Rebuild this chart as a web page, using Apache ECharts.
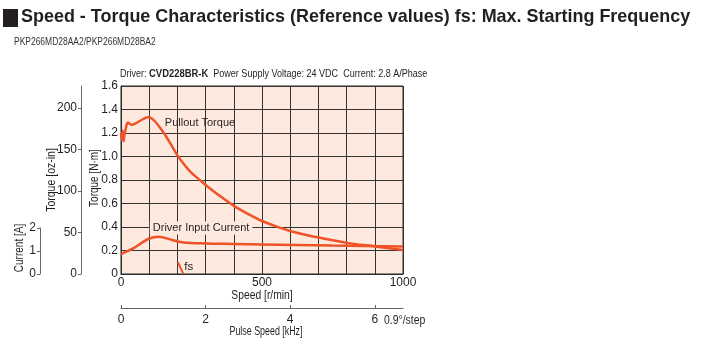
<!DOCTYPE html>
<html>
<head>
<meta charset="utf-8">
<script src="https://cdn.jsdelivr.net/npm/echarts@6/dist/echarts.min.js"></script>
<style>
  html, body { margin: 0; padding: 0; background: #fff; }
  #main { width: 713px; height: 352px; }
</style>
</head>
<body>
<div id="main"></div>
<script>
// speed [r/min] / pullout torque [N·m]
var torqueSpeed = [0, 3, 6, 9, 12, 20, 25, 30, 38, 50, 65, 80, 95, 105, 120, 140, 160, 180, 200, 220, 250, 280, 300, 350, 400, 450, 500, 550, 600, 650, 700, 800, 900, 1000];
var torqueNm = [1.2, 1.14, 1.22, 1.13, 1.18, 1.27, 1.29, 1.28, 1.27, 1.28, 1.30, 1.32, 1.335, 1.33, 1.30, 1.24, 1.17, 1.09, 1.01, 0.945, 0.86, 0.799, 0.758, 0.665, 0.58, 0.512, 0.451, 0.405, 0.366, 0.336, 0.31, 0.265, 0.235, 0.205];

// speed [r/min] / driver input current [A]
var currentSpeed = [0, 45, 98, 134, 181, 222, 300, 400, 500, 750, 1000];
var currentA = [0.85, 1.1, 1.5, 1.59, 1.45, 1.34, 1.3, 1.28, 1.26, 1.21, 1.17];

// fs: max starting frequency
var fsSpeed = [202, 220];
var fsNm = [0.1, 0.005];

var OZIN_PER_NM = 141.612;
var lineColor = '#f05328';
var textColor = '#231f20';
var font = '"Liberation Sans", Arial, sans-serif';

function pairs(xs, ys) {
  return xs.map(function (x, i) { return [x, ys[i]]; });
}

// condensed text (the original uses a narrow face)
function narrow(text, x, y, size, sx, opts) {
  opts = opts || {};
  return {
    type: 'text', x: x, y: y, scaleX: sx, rotation: opts.rotation || 0,
    style: {
      text: text, font: (opts.bold ? 'bold ' : '') + size + 'px ' + font, fill: opts.fill || textColor,
      align: opts.align || 'left', verticalAlign: opts.valign || 'top'
    }
  };
}

var myChart = echarts.init(document.getElementById('main'));
var option = {
  animation: false,
  textStyle: { fontFamily: font },
  graphic: [
    { type: 'rect', shape: { x: 3, y: 9, width: 15, height: 18 }, style: { fill: textColor } },
    narrow('Speed - Torque Characteristics (Reference values) fs: Max. Starting Frequency', 21, 7, 19, 0.945, { bold: true }),
    narrow('PKP266MD28AA2/PKP266MD28BA2', 14, 36, 11, 0.77, { fill: '#333' }),
    {
      type: 'text', x: 120, y: 68, scaleX: 0.82,
      style: {
        text: '{a|Driver: }{b|CVD228BR-K}{a|  Power Supply Voltage: 24 VDC  Current: 2.8 A/Phase}',
        rich: {
          a: { fontFamily: font, fontSize: 11, fill: textColor },
          b: { fontFamily: font, fontSize: 11.5, fontWeight: 'bold', fill: textColor }
        }
      }
    },
    narrow('0.9°/step', 384, 315, 12, 0.87),
    narrow('Speed [r/min]', 262, 296, 12, 0.86, { align: 'center', valign: 'middle' }),
    narrow('Pulse Speed [kHz]', 266, 332, 12, 0.74, { align: 'center', valign: 'middle' }),
    narrow('Torque [N·m]', 95, 178, 12.5, 0.8, { align: 'center', valign: 'middle', rotation: Math.PI / 2 }),
    narrow('Torque [oz-in]', 52, 180, 12.5, 0.84, { align: 'center', valign: 'middle', rotation: Math.PI / 2 }),
    narrow('Current [A]', 20, 248, 12.5, 0.8, { align: 'center', valign: 'middle', rotation: Math.PI / 2 })
  ],
  grid: [
    { left: 121, right: 310, top: 86, bottom: 78, show: true, backgroundColor: '#fde9de', borderColor: '#2a2a2a', borderWidth: 1 },
    { left: 40, width: 10, top: 228, bottom: 78 }
  ],
  xAxis: [
    {
      type: 'value', gridIndex: 0, min: 0, max: 1000, interval: 100,
      axisLine: { onZero: false, lineStyle: { color: '#2a2a2a' } },
      axisTick: { show: false },
      axisLabel: { fontSize: 12, color: textColor, margin: 3, formatter: function (v) { return v % 500 === 0 ? v : ''; } },
      splitLine: { show: true, lineStyle: { color: '#333', width: 1 } }
    },
    {
      type: 'value', gridIndex: 0, position: 'bottom', offset: 34, min: 0, max: 1000 / 150, interval: 2,
      axisLine: { show: true, onZero: false, lineStyle: { color: '#666' } },
      axisTick: { show: true, inside: true, length: 3, lineStyle: { color: '#666' } },
      axisLabel: { fontSize: 12, color: textColor, margin: 6, showMaxLabel: false },
      splitLine: { show: false }
    },
    { type: 'value', gridIndex: 1, show: false, min: 0, max: 1 }
  ],
  yAxis: [
    {
      type: 'value', gridIndex: 0, min: 0, max: 1.6, interval: 0.2,
      axisLine: { show: true, onZero: false, lineStyle: { color: '#2a2a2a' } },
      axisTick: { show: false },
      axisLabel: { fontSize: 12, color: textColor, margin: 3, formatter: function (v) { return v === 0 ? '0' : v.toFixed(1); } },
      splitLine: { show: true, lineStyle: { color: '#333', width: 1 } }
    },
    {
      type: 'value', gridIndex: 0, position: 'left', offset: 40, min: 0, max: 1.6 * OZIN_PER_NM, interval: 50,
      axisLine: { show: true, onZero: false, lineStyle: { color: '#666' } },
      axisTick: { show: true, length: 3, lineStyle: { color: '#666' } },
      axisLabel: { fontSize: 12, color: textColor, margin: 4, showMaxLabel: false },
      splitLine: { show: false }
    },
    { type: 'value', gridIndex: 0, show: false, min: 0, max: 8 },
    {
      type: 'value', gridIndex: 1, position: 'left', min: 0, max: 2, interval: 1,
      axisLine: { show: true, onZero: false, lineStyle: { color: '#666' } },
      axisTick: { show: true, length: 3, lineStyle: { color: '#666' } },
      axisLabel: { fontSize: 12, color: textColor, margin: 4 },
      splitLine: { show: false }
    }
  ],
  series: [
    {
      name: 'Pullout Torque', type: 'line', xAxisIndex: 0, yAxisIndex: 0, smooth: 0.3,
      showSymbol: false, data: pairs(torqueSpeed, torqueNm),
      lineStyle: { color: lineColor, width: 2.5 },
      markPoint: {
        symbol: 'circle', symbolSize: 0,
        label: { show: true, position: 'inside', formatter: 'Pullout Torque', fontSize: 11, color: textColor, fontFamily: font },
        data: [{ coord: [280, 1.285] }]
      }
    },
    {
      name: 'Driver Input Current', type: 'line', xAxisIndex: 0, yAxisIndex: 2, smooth: 0.3,
      showSymbol: false, data: pairs(currentSpeed, currentA),
      lineStyle: { color: lineColor, width: 2.5 },
      markPoint: {
        symbol: 'circle', symbolSize: 0,
        label: { show: true, position: 'inside', formatter: 'Driver Input Current', fontSize: 11, color: textColor, fontFamily: font,
          backgroundColor: '#fde9de', padding: [1, 3] },
        data: [{ coord: [284, 1.96] }]
      }
    },
    {
      name: 'fs', type: 'line', xAxisIndex: 0, yAxisIndex: 0,
      showSymbol: false, data: pairs(fsSpeed, fsNm),
      lineStyle: { color: lineColor, width: 2 },
      markPoint: {
        symbol: 'circle', symbolSize: 0,
        label: { show: true, position: 'inside', formatter: 'fs', fontSize: 11.5, color: textColor, fontFamily: font },
        data: [{ coord: [240, 0.06] }]
      }
    }
  ]
};
myChart.setOption(option);
</script>
</body>
</html>
